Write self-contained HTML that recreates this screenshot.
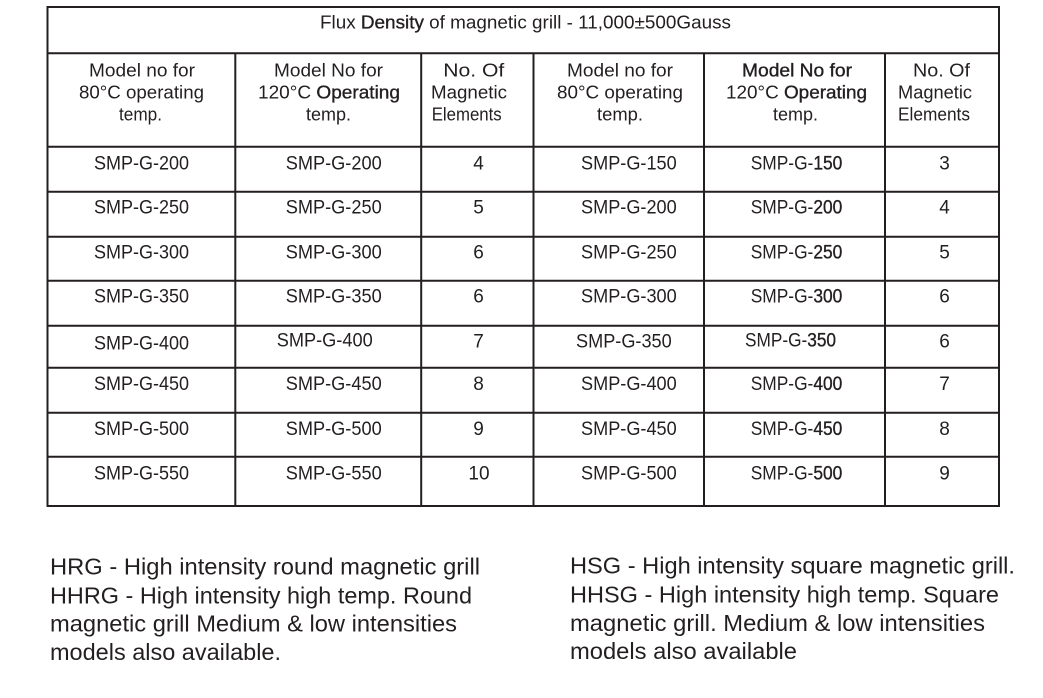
<!DOCTYPE html>
<html>
<head>
<meta charset="utf-8">
<style>
html,body{margin:0;padding:0;background:#fff;}
svg{display:block;}
text{font-family:"Liberation Sans",sans-serif;fill:#231f20;}
.h{font-size:18px;}
.d{font-size:19px;}
.f{font-size:23px;}
.b{stroke:#231f20;stroke-width:0.35px;}
</style>
</head>
<body>
<svg width="1043" height="698" viewBox="0 0 1043 698" xmlns="http://www.w3.org/2000/svg">
<g stroke="#231f20" stroke-width="2" fill="none">
<rect x="47.5" y="7" width="951.5" height="499"/>
<line x1="47.5" y1="53.3" x2="999" y2="53.3"/>
<line x1="47.5" y1="146.7" x2="999" y2="146.7"/>
<line x1="47.5" y1="191.7" x2="999" y2="191.7"/>
<line x1="47.5" y1="236.7" x2="999" y2="236.7"/>
<line x1="47.5" y1="280.7" x2="999" y2="280.7"/>
<line x1="47.5" y1="325.7" x2="999" y2="325.7"/>
<line x1="47.5" y1="367.7" x2="999" y2="367.7"/>
<line x1="47.5" y1="412.7" x2="999" y2="412.7"/>
<line x1="47.5" y1="456.7" x2="999" y2="456.7"/>
<line x1="235.3" y1="53.3" x2="235.3" y2="506"/>
<line x1="421.2" y1="53.3" x2="421.2" y2="506"/>
<line x1="533.5" y1="53.3" x2="533.5" y2="506"/>
<line x1="704" y1="53.3" x2="704" y2="506"/>
<line x1="885" y1="53.3" x2="885" y2="506"/>
</g>

<text class="h" x="320" y="28.5" textLength="411" lengthAdjust="spacingAndGlyphs">Flux <tspan class="b">Density</tspan> of magnetic grill - 11,000±500Gauss</text>

<!-- headers -->
<text class="h" x="89" y="76.5" textLength="106" lengthAdjust="spacingAndGlyphs">Model no for</text>
<text class="h" x="79" y="98.5" textLength="125" lengthAdjust="spacingAndGlyphs">80°C operating</text>
<text class="h" x="119" y="120.5" textLength="43" lengthAdjust="spacingAndGlyphs">temp.</text>

<text class="h" x="274" y="76.5" textLength="109" lengthAdjust="spacingAndGlyphs">Model No for</text>
<text class="h" x="258" y="98.5" textLength="142" lengthAdjust="spacingAndGlyphs">120°C <tspan class="b">Operating</tspan></text>
<text class="h" x="306" y="120.5" textLength="45" lengthAdjust="spacingAndGlyphs">temp.</text>

<text class="h" x="443.3" y="76.3" textLength="61" lengthAdjust="spacingAndGlyphs">No. Of</text>
<text class="h" x="431" y="98.3" textLength="76" lengthAdjust="spacingAndGlyphs">Magnetic</text>
<text class="h" x="431.7" y="120.3" textLength="70" lengthAdjust="spacingAndGlyphs">Elements</text>

<text class="h" x="567" y="76.5" textLength="106" lengthAdjust="spacingAndGlyphs">Model no for</text>
<text class="h" x="557" y="98.5" textLength="126" lengthAdjust="spacingAndGlyphs">80°C operating</text>
<text class="h" x="597" y="120.5" textLength="46" lengthAdjust="spacingAndGlyphs">temp.</text>

<text class="h b" x="742" y="76.5" textLength="110" lengthAdjust="spacingAndGlyphs">Model No for</text>
<text class="h" x="726" y="98.5" textLength="141" lengthAdjust="spacingAndGlyphs">120°C <tspan class="b">Operating</tspan></text>
<text class="h" x="773" y="120.5" textLength="45" lengthAdjust="spacingAndGlyphs">temp.</text>

<text class="h" x="913" y="76.3" textLength="57" lengthAdjust="spacingAndGlyphs">No. Of</text>
<text class="h" x="898" y="98.3" textLength="74" lengthAdjust="spacingAndGlyphs">Magnetic</text>
<text class="h" x="898" y="120.3" textLength="72" lengthAdjust="spacingAndGlyphs">Elements</text>

<!-- col1 -->
<g class="d">
<text class="d" x="94" y="169.3" textLength="95" lengthAdjust="spacingAndGlyphs">SMP-G-200</text>
<text class="d" x="94" y="213.3" textLength="95" lengthAdjust="spacingAndGlyphs">SMP-G-250</text>
<text class="d" x="94" y="258.3" textLength="95" lengthAdjust="spacingAndGlyphs">SMP-G-300</text>
<text class="d" x="94" y="302.7" textLength="95" lengthAdjust="spacingAndGlyphs">SMP-G-350</text>
<text class="d" x="94" y="349.3" textLength="95" lengthAdjust="spacingAndGlyphs">SMP-G-400</text>
<text class="d" x="94" y="390" textLength="95" lengthAdjust="spacingAndGlyphs">SMP-G-450</text>
<text class="d" x="94" y="435" textLength="95" lengthAdjust="spacingAndGlyphs">SMP-G-500</text>
<text class="d" x="94" y="479.3" textLength="95" lengthAdjust="spacingAndGlyphs">SMP-G-550</text>
</g>
<!-- col2 -->
<text class="d" x="285.7" y="169.3" textLength="96" lengthAdjust="spacingAndGlyphs">SMP-G-200</text>
<text class="d" x="285.7" y="213.3" textLength="96" lengthAdjust="spacingAndGlyphs">SMP-G-250</text>
<text class="d" x="285.7" y="258.3" textLength="96" lengthAdjust="spacingAndGlyphs">SMP-G-300</text>
<text class="d" x="285.7" y="302.7" textLength="96" lengthAdjust="spacingAndGlyphs">SMP-G-350</text>
<text class="d" x="276.7" y="346.7" textLength="96" lengthAdjust="spacingAndGlyphs">SMP-G-400</text>
<text class="d" x="285.7" y="390" textLength="96" lengthAdjust="spacingAndGlyphs">SMP-G-450</text>
<text class="d" x="285.7" y="435" textLength="96" lengthAdjust="spacingAndGlyphs">SMP-G-500</text>
<text class="d" x="285.7" y="479.3" textLength="96" lengthAdjust="spacingAndGlyphs">SMP-G-550</text>
<!-- col3 -->
<g text-anchor="middle">
<text class="d" x="478.5" y="169.3">4</text>
<text class="d" x="478.5" y="213.3">5</text>
<text class="d" x="478.5" y="258.3">6</text>
<text class="d" x="478.5" y="302.7">6</text>
<text class="d" x="478.5" y="347.3">7</text>
<text class="d" x="478.5" y="390">8</text>
<text class="d" x="478.5" y="435">9</text>
<text class="d" x="479" y="479.3">10</text>
</g>
<!-- col4 -->
<text class="d" x="581" y="169.3" textLength="95.7" lengthAdjust="spacingAndGlyphs">SMP-G-150</text>
<text class="d" x="581" y="213.3" textLength="95.7" lengthAdjust="spacingAndGlyphs">SMP-G-200</text>
<text class="d" x="581" y="258.3" textLength="95.7" lengthAdjust="spacingAndGlyphs">SMP-G-250</text>
<text class="d" x="581" y="302.7" textLength="95.7" lengthAdjust="spacingAndGlyphs">SMP-G-300</text>
<text class="d" x="576" y="347.3" textLength="95.7" lengthAdjust="spacingAndGlyphs">SMP-G-350</text>
<text class="d" x="581" y="390" textLength="95.7" lengthAdjust="spacingAndGlyphs">SMP-G-400</text>
<text class="d" x="581" y="435" textLength="95.7" lengthAdjust="spacingAndGlyphs">SMP-G-450</text>
<text class="d" x="581" y="479.3" textLength="95.7" lengthAdjust="spacingAndGlyphs">SMP-G-500</text>
<!-- col5 -->
<text class="d" x="750.7" y="169.3" textLength="91.6" lengthAdjust="spacingAndGlyphs">SMP-G-<tspan class="b">150</tspan></text>
<text class="d" x="750.7" y="213.3" textLength="91.6" lengthAdjust="spacingAndGlyphs">SMP-G-<tspan class="b">200</tspan></text>
<text class="d" x="750.7" y="258.3" textLength="91.6" lengthAdjust="spacingAndGlyphs">SMP-G-<tspan class="b">250</tspan></text>
<text class="d" x="750.7" y="302.7" textLength="91.6" lengthAdjust="spacingAndGlyphs">SMP-G-<tspan class="b">300</tspan></text>
<text class="d" x="745" y="346.7" textLength="91" lengthAdjust="spacingAndGlyphs">SMP-G-<tspan class="b">350</tspan></text>
<text class="d" x="750.7" y="390" textLength="91.6" lengthAdjust="spacingAndGlyphs">SMP-G-<tspan class="b">400</tspan></text>
<text class="d" x="750.7" y="435" textLength="91.6" lengthAdjust="spacingAndGlyphs">SMP-G-<tspan class="b">450</tspan></text>
<text class="d" x="750.7" y="479.3" textLength="91.6" lengthAdjust="spacingAndGlyphs">SMP-G-<tspan class="b">500</tspan></text>
<!-- col6 -->
<g text-anchor="middle">
<text class="d" x="944.5" y="169.3">3</text>
<text class="d" x="944.5" y="213.3">4</text>
<text class="d" x="944.5" y="258.3">5</text>
<text class="d" x="944.5" y="302.7">6</text>
<text class="d" x="944.5" y="347.3">6</text>
<text class="d" x="944.5" y="390">7</text>
<text class="d" x="944.5" y="435">8</text>
<text class="d" x="944.5" y="479.3">9</text>
</g>

<!-- footer left -->
<text class="f" x="50" y="574.3" textLength="430" lengthAdjust="spacingAndGlyphs">HRG - High intensity round magnetic grill</text>
<text class="f" x="50" y="603.3" textLength="422" lengthAdjust="spacingAndGlyphs">HHRG - High intensity high temp. Round</text>
<text class="f" x="50" y="631.7" textLength="407" lengthAdjust="spacingAndGlyphs">magnetic grill Medium &amp; low intensities</text>
<text class="f" x="50" y="660" textLength="231" lengthAdjust="spacingAndGlyphs">models also available.</text>
<!-- footer right -->
<text class="f" x="570" y="573.3" textLength="445" lengthAdjust="spacingAndGlyphs">HSG - High intensity square magnetic grill.</text>
<text class="f" x="570" y="602.7" textLength="429" lengthAdjust="spacingAndGlyphs">HHSG - High intensity high temp. Square</text>
<text class="f" x="570" y="631" textLength="415" lengthAdjust="spacingAndGlyphs">magnetic grill. Medium &amp; low intensities</text>
<text class="f" x="570" y="659" textLength="227" lengthAdjust="spacingAndGlyphs">models also available</text>
</svg>
</body>
</html>
